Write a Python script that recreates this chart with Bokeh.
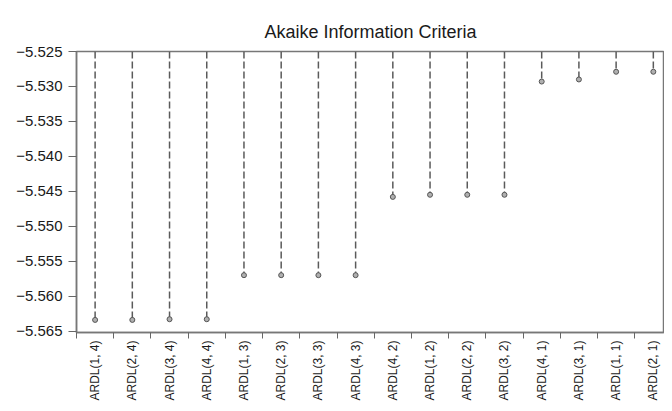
import math
from bokeh.plotting import figure
from bokeh.models import Range1d, FixedTicker, CustomJSTickFormatter, ColumnDataSource
from bokeh.embed import file_html
from bokeh.resources import INLINE

# ---- data ----
title_text = "Akaike Information Criteria"
models = ["ARDL(1, 4)", "ARDL(2, 4)", "ARDL(3, 4)", "ARDL(4, 4)",
          "ARDL(1, 3)", "ARDL(2, 3)", "ARDL(3, 3)", "ARDL(4, 3)",
          "ARDL(4, 2)", "ARDL(1, 2)", "ARDL(2, 2)", "ARDL(3, 2)",
          "ARDL(4, 1)", "ARDL(3, 1)", "ARDL(1, 1)", "ARDL(2, 1)"]
aic = [-5.5634, -5.5634, -5.5633, -5.5633,
       -5.5570, -5.5570, -5.5570, -5.5570,
       -5.5458, -5.5455, -5.5455, -5.5455,
       -5.5293, -5.5290, -5.5279, -5.5279]
y_ticks = [-5.565, -5.560, -5.555, -5.550, -5.545, -5.540, -5.535, -5.530, -5.525]

y_top = -5.525
y_bottom = -5.5652

pos = list(range(len(models)))
src = ColumnDataSource(dict(x=pos, y=aic, top=[y_top] * len(models)))

FONT = "Liberation Sans"

p = figure(width=664, height=403, output_backend="svg", toolbar_location=None,
           x_range=Range1d(-0.5, 15.3), y_range=Range1d(y_bottom, y_top),
           min_border_left=76, min_border_right=0, min_border_top=51, min_border_bottom=65,
           title=title_text)

p.title.align = "center"
p.title.offset = 8
p.title.text_font = FONT
p.title.text_font_size = "18px"
p.title.text_font_style = "normal"
p.title.text_color = "#1a1a1a"
p.title.standoff = 20

p.xgrid.visible = False
p.ygrid.visible = False
p.outline_line_color = "#777777"
p.outline_line_width = 1.5

p.segment(x0="x", y0="top", x1="x", y1="y", source=src,
          line_color="#5a5a5a", line_width=1.5, line_dash="7 3")
p.scatter(x="x", y="y", source=src, size=5, marker="circle",
          line_color="#555555", fill_color="#b0b0b0", line_width=1)

# x axis
p.xaxis.ticker = FixedTicker(ticks=pos, minor_ticks=[i - 0.5 for i in range(len(models) + 1)])
p.xaxis.major_label_overrides = {i: m for i, m in enumerate(models)}
p.xaxis.major_label_orientation = math.pi / 2
p.xaxis.major_label_text_font = FONT
p.xaxis.major_label_text_font_size = "12px"
p.xaxis.major_label_text_color = "#1a1a1a"
p.xaxis.major_label_standoff = 2
p.xaxis.major_tick_line_color = None
p.xaxis.major_tick_out = 0
p.xaxis.major_tick_in = 0
p.xaxis.minor_tick_out = 6
p.xaxis.minor_tick_in = 0
p.xaxis.minor_tick_line_color = "#666666"
p.xaxis.axis_line_color = "#777777"
p.xaxis.axis_line_width = 1.5

# y axis
p.yaxis.ticker = FixedTicker(ticks=y_ticks, minor_ticks=[])
p.yaxis.formatter = CustomJSTickFormatter(code="return tick.toFixed(3).replace('-', '\u2212');")
p.yaxis.major_label_text_font = FONT
p.yaxis.major_label_text_font_size = "15px"
p.yaxis.major_label_text_color = "#1a1a1a"
p.yaxis.major_label_standoff = 6
p.yaxis.major_tick_out = 8
p.yaxis.major_tick_in = 0
p.yaxis.major_tick_line_color = "#666666"
p.yaxis.axis_line_color = "#777777"
p.yaxis.axis_line_width = 1.5

open("out.html", "w").write(file_html(p, INLINE))
